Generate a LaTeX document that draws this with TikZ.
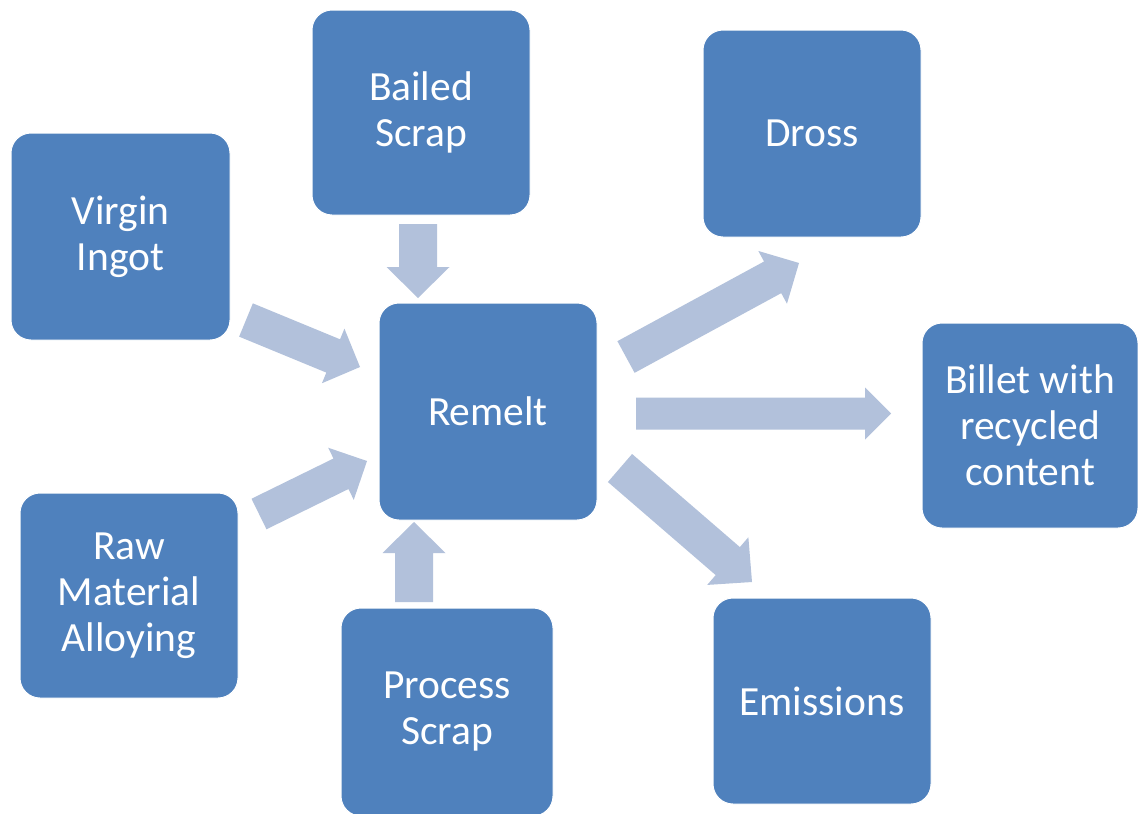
\documentclass[tikz,border=0pt]{standalone}
\usepackage{fontspec}
\setmainfont{Carlito}
\usetikzlibrary{calc}
\definecolor{boxblue}{HTML}{4F81BD}
\definecolor{arrowblue}{HTML}{B2C1DB}
\tikzset{
  box/.style={rectangle, rounded corners=20pt, fill=boxblue, draw=white, line width=1pt,
    text=white, align=center, inner sep=0pt,
    font=\fontsize{41.5pt}{46pt}\selectfont},
  arrowfill/.style={fill=arrowblue}
}
\newcommand{\blockarrow}[5]{%
  \coordinate (#1#2base) at ($(#2)!#5!(#1)$);
  \fill[arrowfill] ($(#1)!#3!90:(#2)$) -- ($(#1#2base)!#3!90:(#2)$) -- ($(#1#2base)!#4!90:(#2)$) -- (#2)
    -- ($(#1#2base)!#4!-90:(#2)$) -- ($(#1#2base)!#3!-90:(#2)$) -- ($(#1)!#3!-90:(#2)$) -- cycle;}
\begin{document}
\begin{tikzpicture}[x=1pt,y=-1pt]
\useasboundingbox[fill=white] (0,0) rectangle (1138,814);
% boxes
\node[box, minimum width=218pt, minimum height=205pt] (bailed) at (421,112.5) {Bailed\\Scrap};
\node[box, minimum width=219pt, minimum height=207pt] (virgin) at (120.5,236.5) {Virgin\\Ingot};
\node[box, minimum width=218pt, minimum height=207pt] (dross) at (812,133.5) {Dross};
\node[box, minimum width=218pt, minimum height=217pt] (remelt) at (488,411.5) {Remelt};
\node[box, minimum width=216pt, minimum height=205pt] (billet) at (1030,425.5) {Billet with\\recycled\\content};
\node[box, minimum width=218pt, minimum height=205pt] (raw) at (129,595.5) {Raw\\Material\\Alloying};
\node[box, minimum width=212pt, minimum height=208pt] (process) at (447,712) {Process\\Scrap};
\node[box, minimum width=218pt, minimum height=206pt] (emis) at (822,701) {Emissions};
% arrow end points
\coordinate (bt) at (418,224);   \coordinate (bh) at (418,298);
\coordinate (pt) at (414,602);   \coordinate (ph) at (414,522);
\coordinate (vt) at (246,320);   \coordinate (vh) at (360,367);
\coordinate (rt) at (259,514);   \coordinate (rh) at (367,461);
\coordinate (dt) at (626,357);   \coordinate (dh) at (799,263);
\coordinate (ct) at (636,413.5); \coordinate (ch) at (891,413.5);
\coordinate (et) at (620,468);   \coordinate (eh) at (752,582);
% block arrows
\blockarrow{bt}{bh}{19pt}{31.5pt}{31pt}
\blockarrow{pt}{ph}{19pt}{31.5pt}{31pt}
\blockarrow{vt}{vh}{18pt}{29.5pt}{29pt}
\blockarrow{rt}{rh}{17pt}{29pt}{29pt}
\blockarrow{dt}{dh}{18pt}{30pt}{30pt}
\blockarrow{ct}{ch}{16pt}{26pt}{26pt}
\blockarrow{et}{eh}{18.5pt}{31.5pt}{32pt}
\end{tikzpicture}
\end{document}
